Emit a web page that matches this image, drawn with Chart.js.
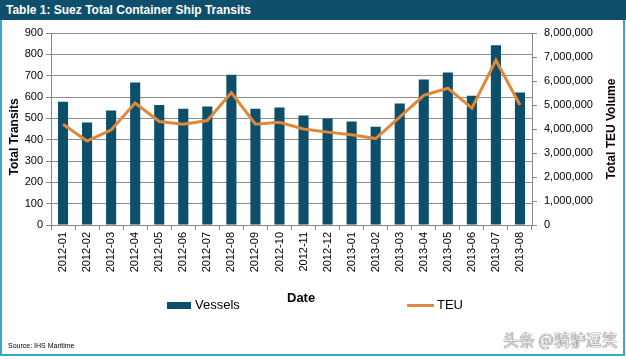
<!DOCTYPE html>
<html>
<head>
<meta charset="utf-8">
<script src="https://cdn.jsdelivr.net/npm/chart.js@4/dist/chart.umd.min.js"></script>
<style>
  html, body { margin:0; padding:0; background:#fff; }
  #wrap { position:relative; width:626px; height:359px; overflow:hidden; background:#fff; font-family:"Liberation Sans", Arial, sans-serif; }
  #frame { position:absolute; left:0; top:0; width:621px; height:354px; border-left:2px solid #35a9cb; border-right:2px solid #35a9cb; border-bottom:2px solid #35a9cb; box-sizing:content-box; }
  #titlebar { position:absolute; left:0; top:0; width:626px; height:20px; background:#0f4f6b; color:#fff; font-weight:bold; font-size:12px; line-height:20px; padding-left:6px; box-sizing:border-box; }
  #chartbox { position:absolute; left:0; top:0; width:626px; height:359px; }
  .leg { position:absolute; font-size:13px; color:#000; }
  #source { position:absolute; left:8px; top:342px; font-size:7px; color:#000; }
  #wm { position:absolute; left:503px; top:327px; font-family:"Noto Sans CJK SC", sans-serif; font-size:16px; color:#eee; text-shadow:0 0 1px #444, 0 0 1px #444; }
</style>
</head>
<body>
<div id="wrap">
  <div id="chartbox"><canvas id="c" width="626" height="359"></canvas></div>
  <div id="frame"></div>
  <div id="titlebar">Table 1: Suez Total Container Ship Transits</div>
  <div class="leg" style="left:167px;top:302px;width:24px;height:7px;background:#0d4f6b;"></div>
  <div class="leg" style="left:195px;top:297px;">Vessels</div>
  <div class="leg" style="left:287px;top:290px;font-weight:bold;">Date</div>
  <div class="leg" style="left:407px;top:304px;width:27px;height:3px;background:#dd8a44;"></div>
  <div class="leg" style="left:437px;top:297px;">TEU</div>
  <div id="source">Source: IHS Maritime</div>
  <div id="wm">头条 @骑驴逗笑</div>
</div>
<script>
const categories = ["2012-01","2012-02","2012-03","2012-04","2012-05","2012-06","2012-07","2012-08","2012-09","2012-10","2012-11","2012-12","2013-01","2013-02","2013-03","2013-04","2013-05","2013-06","2013-07","2013-08"];
const vessels = [578,480,537,668,563,545,555,704,545,551,513,499,485,461,569,682,715,606,843,621];
const teu = [4200000,3500000,3960000,5080000,4310000,4200000,4350000,5520000,4200000,4280000,4000000,3870000,3760000,3600000,4490000,5400000,5700000,4870000,6860000,5000000];
const leftTicks = [0,100,200,300,400,500,600,700,800,900];
const rightTicks = [0,1000000,2000000,3000000,4000000,5000000,6000000,7000000,8000000];
const leftTitle = "Total Transits";
const rightTitle = "Total TEU Volume";

const tickFont = { family: "Liberation Sans, Arial, sans-serif", size: 11 };

const axisTitles = {
  id: 'axisTitles',
  afterDraw(chart) {
    const ctx = chart.ctx;
    const a = chart.chartArea;
    ctx.save();
    ctx.font = "bold 12px 'Liberation Sans', Arial, sans-serif";
    ctx.fillStyle = '#000';
    ctx.textAlign = 'center';
    ctx.textBaseline = 'middle';
    ctx.translate(15, a.top + (a.bottom - a.top) / 2 + 8);
    ctx.rotate(-Math.PI / 2);
    ctx.fillText(leftTitle, 0, 0);
    ctx.restore();
    ctx.save();
    ctx.font = "bold 12px 'Liberation Sans', Arial, sans-serif";
    ctx.fillStyle = '#000';
    ctx.textAlign = 'center';
    ctx.textBaseline = 'middle';
    ctx.translate(612, a.top + (a.bottom - a.top) / 2);
    ctx.rotate(-Math.PI / 2);
    ctx.fillText(rightTitle, 0, 0);
    ctx.restore();
  }
};

new Chart(document.getElementById('c'), {
  data: {
    labels: categories,
    datasets: [
      { type: 'line', label: 'TEU', data: teu, yAxisID: 'y1', borderColor: '#e08838', borderWidth: 3, pointRadius: 0, tension: 0, order: 0 },
      { type: 'bar', label: 'Vessels', data: vessels, yAxisID: 'y', backgroundColor: '#0d4f6b', barPercentage: 0.42, categoryPercentage: 1.0, order: 1 }
    ]
  },
  plugins: [axisTitles],
  options: {
    responsive: false,
    animation: false,
    devicePixelRatio: 1,
    layout: { padding: { top: 33, left: 0, right: 0, bottom: 0 } },
    plugins: { legend: { display: false }, tooltip: { enabled: false } },
    scales: {
      x: {
        offset: true,
        grid: { display: true, drawOnChartArea: false, offset: true, color: '#888', tickLength: 5 },
        border: { color: '#888' },
        ticks: { font: tickFont, color: '#000', minRotation: 90, maxRotation: 90, padding: 2, autoSkip: false },
        afterFit: s => { s.height = 134; }
      },
      y: {
        position: 'left', min: 0, max: 900,
        afterBuildTicks: s => { s.ticks = leftTicks.map(v => ({ value: v })); },
        grid: { color: '#8c8c8c', tickLength: 5 },
        border: { color: '#888' },
        ticks: { font: tickFont, color: '#000', padding: 3 },
        afterFit: s => { s.width = 51; }
      },
      y1: {
        position: 'right', min: 0, max: 8000000,
        afterBuildTicks: s => { s.ticks = rightTicks.map(v => ({ value: v })); },
        grid: { drawOnChartArea: false, color: '#888', tickLength: 5 },
        border: { color: '#888' },
        ticks: { font: tickFont, color: '#000', padding: 7, callback: v => v.toLocaleString('en-US') },
        afterFit: s => { s.width = 94; }
      }
    }
  }
});
</script>
</body>
</html>
